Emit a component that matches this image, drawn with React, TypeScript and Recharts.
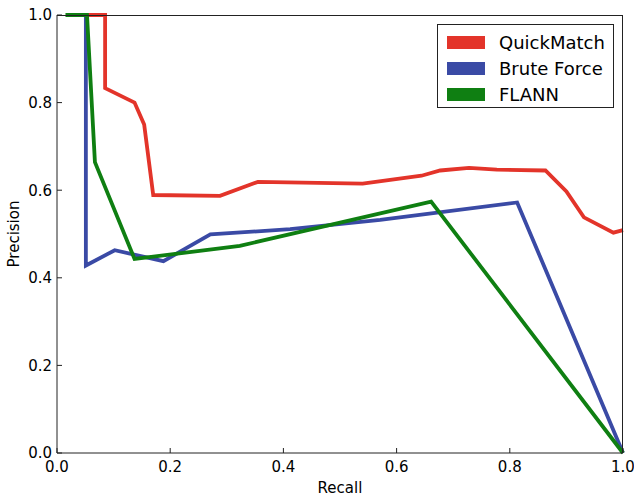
import React from 'react';
import { LineChart, Line, XAxis, YAxis } from 'recharts';

const quickMatchRecall = [0.055, 0.085, 0.085, 0.137, 0.154, 0.17, 0.288, 0.355, 0.54, 0.644, 0.677, 0.728, 0.777, 0.863, 0.9, 0.931, 0.983, 1.0];
const quickMatchPrecision = [1.0, 1.0, 0.833, 0.8, 0.75, 0.589, 0.587, 0.619, 0.615, 0.633, 0.645, 0.651, 0.647, 0.645, 0.597, 0.538, 0.503, 0.509];

const bruteForceRecall = [0.051, 0.051, 0.102, 0.188, 0.271, 0.412, 0.571, 0.813, 1.0];
const bruteForcePrecision = [1.0, 0.428, 0.463, 0.438, 0.499, 0.511, 0.532, 0.572, 0.0];

const flannRecall = [0.015, 0.053, 0.067, 0.137, 0.323, 0.661, 1.0];
const flannPrecision = [1.0, 1.0, 0.664, 0.443, 0.473, 0.574, 0.0];

const ticks = [0, 0.2, 0.4, 0.6, 0.8, 1.0];

const zip = (xs: number[], ys: number[]) => xs.map((x, i) => ({ x, y: ys[i] }));

const series = [
  { name: 'QuickMatch', color: '#e3342a', data: zip(quickMatchRecall, quickMatchPrecision) },
  { name: 'Brute Force', color: '#3a4aa5', data: zip(bruteForceRecall, bruteForcePrecision) },
  { name: 'FLANN', color: '#0f7f12', data: zip(flannRecall, flannPrecision) },
];

const font = '"DejaVu Sans", sans-serif';
const tickStyle = { fontSize: 15, fill: '#000', fontFamily: font };
const fmt = (v: number) => v.toFixed(1);

export default function App() {
  return (
    <div style={{ position: 'absolute', left: 0, top: 0, width: 634, height: 496, background: '#fff' }}>
      <LineChart width={634} height={496} margin={{ top: 15, right: 11, bottom: 0, left: 0 }}>
        <XAxis
          xAxisId="b"
          dataKey="x"
          type="number"
          domain={[0, 1]}
          ticks={ticks}
          tickFormatter={fmt}
          height={43}
          tickSize={-5}
          tickMargin={13}
          tick={tickStyle}
          stroke="#222"
          allowDuplicatedCategory={false}
          label={{ value: 'Recall', position: 'insideBottom', offset: 3, style: { fontSize: 15, fill: '#000', fontFamily: font } }}
        />
        <XAxis
          xAxisId="t"
          dataKey="x"
          type="number"
          orientation="top"
          domain={[0, 1]}
          ticks={ticks}
          tickFormatter={() => ''}
          height={0}
          tickSize={-5}
          stroke="#222"
        />
        <YAxis
          yAxisId="l"
          type="number"
          domain={[0, 1]}
          ticks={ticks}
          tickFormatter={fmt}
          width={57}
          tickSize={-5}
          tickMargin={10}
          tick={tickStyle}
          stroke="#222"
          label={{ value: 'Precision', angle: -90, position: 'insideLeft', offset: 14, style: { fontSize: 15, fill: '#000', fontFamily: font, textAnchor: 'middle' } }}
        />
        <YAxis
          yAxisId="r"
          type="number"
          orientation="right"
          domain={[0, 1]}
          ticks={ticks}
          tickFormatter={() => ''}
          width={0}
          tickSize={-5}
          stroke="#222"
        />
        {series.map((s) => (
          <Line
            key={s.name}
            xAxisId="b"
            yAxisId="l"
            data={s.data}
            dataKey="y"
            name={s.name}
            stroke={s.color}
            strokeWidth={3.8}
            dot={false}
            activeDot={false}
            isAnimationActive={false}
          />
        ))}
      </LineChart>
      {/* plot frame, like matplotlib's four spines */}
      <div
        style={{
          position: 'absolute',
          left: 57,
          top: 15,
          width: 565,
          height: 437,
          borderTop: '1px solid #222',
          borderRight: '1px solid #222',
          pointerEvents: 'none',
        }}
      />
      <div
        style={{
          position: 'absolute',
          left: 437,
          top: 24,
          width: 175,
          height: 82,
          border: '1px solid #222',
          background: '#fff',
          fontFamily: font,
          fontSize: 18,
        }}
      >
        {series.map((s, i) => (
          <div key={s.name} style={{ position: 'absolute', left: 9, top: 6 + i * 26, height: 22, display: 'flex', alignItems: 'center' }}>
            <div style={{ width: 38, height: 13, background: s.color }} />
            <span style={{ marginLeft: 14, color: '#000', whiteSpace: 'nowrap' }}>{s.name}</span>
          </div>
        ))}
      </div>
    </div>
  );
}
